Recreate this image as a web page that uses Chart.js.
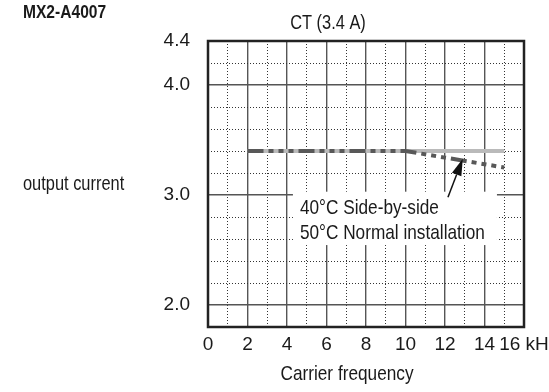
<!DOCTYPE html>
<html>
<head>
<meta charset="utf-8">
<script src="https://cdn.jsdelivr.net/npm/chart.js@4.4.0/dist/chart.umd.min.js"></script>
<style>
  html, body { margin: 0; padding: 0; background: #fff; }
</style>
</head>
<body>
<canvas id="chart" width="549" height="392"></canvas>
<script>
const freqs = [2, 4, 6, 8, 10, 12, 14, 15];
const ratedCurrent = [3.4, 3.4, 3.4, 3.4, 3.4, 3.4, 3.4, 3.4];
const deratedCurrent = [3.4, 3.4, 3.4, 3.4, 3.4, 3.34, 3.28, 3.25];
const xMajorTicks = [0, 2, 4, 6, 8, 10, 12, 14, 16];
const xMinorTicks = [1, 3, 5, 7, 9, 11, 13, 15];
const yLabelTicks = [2.0, 3.0, 4.0, 4.4];
const yMinorTicks = [2.2, 2.4, 2.6, 2.8, 3.2, 3.4, 3.6, 3.8, 4.2];
const noteLines = ["40°C Side-by-side", "50°C Normal installation"];

const FONT = "'Liberation Sans', Arial, sans-serif";
Chart.defaults.font.family = FONT;
Chart.defaults.color = "#1a1a1a";

function toPoints(ys) {
    return freqs.map((f, i) => ({ x: f, y: ys[i] }));
}

// squeezed text, to get near the condensed face of the original
function narrowText(ctx, text, x, y, font, align) {
    ctx.save();
    ctx.font = font;
    ctx.textAlign = align;
    ctx.textBaseline = "alphabetic";
    ctx.translate(x, y);
    ctx.scale(0.82, 1);
    ctx.fillText(text, 0, 0);
    ctx.restore();
}

// box, arrow, frame and free texts
const extras = {
    id: "extras",
    beforeDatasetsDraw(chart) {
        const { ctx, scales: { x, y } } = chart;
        const left = x.getPixelForValue(4.3), right = x.getPixelForValue(14.63);
        const top = y.getPixelForValue(3.03), bottom = y.getPixelForValue(2.545);
        ctx.save();
        ctx.fillStyle = "#fff";
        ctx.fillRect(left, top, right - left, bottom - top);
        ctx.fillStyle = "#1a1a1a";
        narrowText(ctx, noteLines[0], left + 7, top + 22, "21px " + FONT, "left");
        narrowText(ctx, noteLines[1], left + 7, top + 47, "21px " + FONT, "left");
        ctx.restore();
    },
    afterDatasetsDraw(chart) {
        const { ctx, scales: { x, y } } = chart;
        const x0 = x.getPixelForValue(12.15), y0 = y.getPixelForValue(2.98);
        const x1 = x.getPixelForValue(12.9), y1 = y.getPixelForValue(3.33);
        const ang = Math.atan2(y1 - y0, x1 - x0);
        const hl = 17, hw = 5;
        ctx.save();
        ctx.strokeStyle = "#111";
        ctx.fillStyle = "#111";
        ctx.lineWidth = 1.5;
        ctx.beginPath();
        ctx.moveTo(x0, y0);
        ctx.lineTo(x1 - Math.cos(ang) * hl, y1 - Math.sin(ang) * hl);
        ctx.stroke();
        ctx.beginPath();
        ctx.moveTo(x1, y1);
        ctx.lineTo(x1 - Math.cos(ang) * hl - Math.sin(ang) * hw, y1 - Math.sin(ang) * hl + Math.cos(ang) * hw);
        ctx.lineTo(x1 - Math.cos(ang) * hl + Math.sin(ang) * hw, y1 - Math.sin(ang) * hl - Math.cos(ang) * hw);
        ctx.closePath();
        ctx.fill();
        ctx.restore();
    },
    afterDraw(chart) {
        const { ctx, chartArea: a } = chart;
        ctx.save();
        ctx.strokeStyle = "#222";
        ctx.lineWidth = 2.5;
        ctx.strokeRect(a.left, a.top, a.right - a.left, a.bottom - a.top);
        ctx.fillStyle = "#1a1a1a";
        narrowText(ctx, "MX2-A4007", 23, 18, "bold 19px " + FONT, "left");
        narrowText(ctx, "CT (3.4 A)", 328, 29, "20px " + FONT, "center");
        narrowText(ctx, "output current", 23, 190, "20px " + FONT, "left");
        narrowText(ctx, "Carrier frequency", 347, 380, "21px " + FONT, "center");
        ctx.restore();
    }
};

new Chart(document.getElementById("chart"), {
    type: "line",
    data: {
        datasets: [
            {
                label: "Derated",
                data: toPoints(deratedCurrent),
                borderColor: "#585858",
                borderWidth: 4,
                borderDash: [16, 5, 5, 5, 5, 5, 5, 5],
                pointRadius: 0,
                tension: 0
            },
            {
                label: "Rated",
                data: toPoints(ratedCurrent),
                borderColor: "#bababa",
                borderWidth: 4,
                pointRadius: 0,
                tension: 0
            }
        ]
    },
    options: {
        responsive: false,
        animation: false,
        layout: { padding: { left: 0, right: 25, top: 41, bottom: 0 } },
        plugins: { legend: { display: false }, tooltip: { enabled: false } },
        scales: {
            x: {
                type: "linear", position: "bottom", min: 0, max: 16,
                afterBuildTicks: s => { s.ticks = xMajorTicks.map(v => ({ value: v })); },
                afterFit: s => { s.height = 65; s.paddingLeft = 0; s.paddingRight = 0; },
                ticks: {
                    padding: 6, maxRotation: 0, autoSkip: false,
                    font: { size: 19 },
                    callback: v => v === 16 ? "16 kH" : String(v)
                },
                grid: { color: "#555", lineWidth: 1.4, drawTicks: false },
                border: { display: false }
            },
            xMinor: {
                type: "linear", position: "bottom", min: 0, max: 16,
                afterBuildTicks: s => { s.ticks = xMinorTicks.map(v => ({ value: v })); },
                afterFit: s => { s.height = 0; s.paddingLeft = 0; s.paddingRight = 0; },
                ticks: { display: false },
                grid: { color: "#333", lineWidth: 1, drawTicks: false },
                border: { display: false, dash: [1, 2] }
            },
            y: {
                type: "linear", position: "left", min: 1.8, max: 4.4,
                afterBuildTicks: s => { s.ticks = yLabelTicks.map(v => ({ value: v })); },
                afterFit: s => { s.width = 208; s.paddingTop = 0; s.paddingBottom = 0; },
                ticks: {
                    padding: 18, font: { size: 19 },
                    callback: v => v.toFixed(1)
                },
                grid: { color: "#555", lineWidth: 1.4, drawTicks: false },
                border: { display: false }
            },
            yMinor: {
                type: "linear", position: "left", min: 1.8, max: 4.4,
                afterBuildTicks: s => { s.ticks = yMinorTicks.map(v => ({ value: v })); },
                afterFit: s => { s.width = 0; s.paddingTop = 0; s.paddingBottom = 0; },
                ticks: { display: false },
                grid: { color: "#333", lineWidth: 1, drawTicks: false },
                border: { display: false, dash: [1, 2] }
            }
        }
    },
    plugins: [extras]
});
</script>
</body>
</html>
